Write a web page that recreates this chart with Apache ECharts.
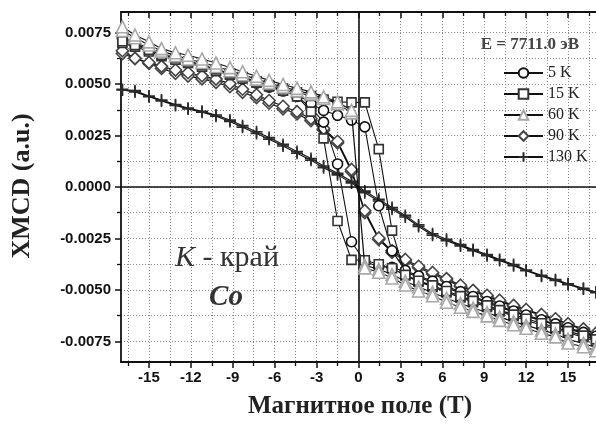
<!DOCTYPE html>
<html>
<head>
<meta charset="utf-8">
<script src="https://cdn.jsdelivr.net/npm/echarts@6/dist/echarts.min.js"></script>
<style>
  html, body { margin: 0; padding: 0; background: #fff; }
  #chart { width: 596px; height: 426px; }
</style>
</head>
<body>
<div id="chart"></div>
<script>
// Magnetic field points (T), shared by every branch
const field = [-16.9,-16.0,-15.0,-14.1,-13.1,-12.2,-11.2,-10.2,-9.2,-8.3,-7.3,-6.4,-5.4,-4.4,-3.4,-2.5,-1.5,-0.5,
               0.45,1.45,2.4,3.35,4.3,5.3,6.3,7.3,8.2,9.2,10.1,11.1,12.0,13.1,14.1,15.0,16.1,17.0];

// XMCD signal, ascending-field branch (up) and descending-field branch (dn), in field order
const k5Up = [0.00730,0.00702,0.00674,0.00648,0.00628,0.00612,0.00592,0.00570,0.00550,0.00530,0.00510,0.00490,0.00472,0.00452,0.00405,0.00372,0.00348,0.00325,
              0.00292,-0.00091,-0.00310,-0.00405,-0.00432,-0.00457,-0.00483,-0.00508,-0.00532,-0.00556,-0.00578,-0.00602,-0.00622,-0.00645,-0.00665,-0.00684,-0.00706,-0.00725];
const k5Dn = [0.00722,0.00695,0.00668,0.00642,0.00622,0.00605,0.00585,0.00565,0.00545,0.00525,0.00505,0.00485,0.00466,0.00440,0.00385,0.00315,0.00112,-0.00266,
              -0.00362,-0.00387,-0.00390,-0.00412,-0.00440,-0.00463,-0.00490,-0.00515,-0.00538,-0.00562,-0.00584,-0.00607,-0.00628,-0.00650,-0.00670,-0.00690,-0.00712,-0.00730];

const k15Up = [0.00708,0.00690,0.00666,0.00642,0.00626,0.00610,0.00592,0.00572,0.00552,0.00534,0.00514,0.00495,0.00478,0.00460,0.00442,0.00425,0.00414,0.00411,
               0.00411,0.00184,-0.00212,-0.00427,-0.00455,-0.00478,-0.00505,-0.00530,-0.00553,-0.00575,-0.00598,-0.00620,-0.00640,-0.00662,-0.00682,-0.00700,-0.00722,-0.00740];
const k15Dn = [0.00700,0.00682,0.00658,0.00635,0.00618,0.00602,0.00584,0.00564,0.00545,0.00527,0.00507,0.00488,0.00468,0.00440,0.00366,0.00236,-0.00165,-0.00354,
               -0.00356,-0.00375,-0.00395,-0.00430,-0.00460,-0.00485,-0.00512,-0.00537,-0.00560,-0.00583,-0.00605,-0.00628,-0.00648,-0.00670,-0.00690,-0.00708,-0.00730,-0.00748];

const k60Up = [0.00778,0.00738,0.00705,0.00672,0.00652,0.00640,0.00622,0.00602,0.00580,0.00560,0.00538,0.00518,0.00498,0.00480,0.00462,0.00438,0.00414,0.00372,
               -0.00393,-0.00414,-0.00442,-0.00476,-0.00505,-0.00528,-0.00560,-0.00584,-0.00604,-0.00626,-0.00648,-0.00669,-0.00686,-0.00710,-0.00728,-0.00758,-0.00776,-0.00795];
const k60Dn = [0.00760,0.00725,0.00690,0.00660,0.00638,0.00622,0.00605,0.00585,0.00565,0.00545,0.00524,0.00505,0.00486,0.00468,0.00452,0.00430,0.00405,0.00360,
               -0.00380,-0.00400,-0.00425,-0.00458,-0.00486,-0.00512,-0.00540,-0.00566,-0.00588,-0.00610,-0.00632,-0.00654,-0.00672,-0.00694,-0.00714,-0.00740,-0.00760,-0.00780];

const k90Up = [0.00662,0.00625,0.00605,0.00586,0.00568,0.00555,0.00540,0.00524,0.00502,0.00475,0.00448,0.00420,0.00392,0.00366,0.00332,0.00284,0.00222,0.00085,
               -0.00115,-0.00248,-0.00310,-0.00352,-0.00385,-0.00415,-0.00445,-0.00477,-0.00502,-0.00526,-0.00550,-0.00575,-0.00595,-0.00619,-0.00640,-0.00664,-0.00689,-0.00710];
const k90Dn = [0.00648,0.00624,0.00600,0.00576,0.00552,0.00539,0.00525,0.00508,0.00487,0.00460,0.00434,0.00407,0.00380,0.00355,0.00322,0.00276,0.00214,0.00075,
               -0.00125,-0.00255,-0.00318,-0.00360,-0.00392,-0.00422,-0.00452,-0.00483,-0.00508,-0.00532,-0.00556,-0.00580,-0.00600,-0.00624,-0.00645,-0.00668,-0.00693,-0.00714];

const k130Up = [0.00474,0.00468,0.00442,0.00422,0.00400,0.00383,0.00368,0.00350,0.00325,0.00298,0.00268,0.00240,0.00207,0.00172,0.00138,0.00102,0.00067,0.00028,
                -0.00020,-0.00060,-0.00100,-0.00138,-0.00184,-0.00227,-0.00254,-0.00280,-0.00304,-0.00328,-0.00352,-0.00377,-0.00403,-0.00429,-0.00450,-0.00470,-0.00492,-0.00510];
const k130Dn = [0.00471,0.00462,0.00438,0.00418,0.00396,0.00379,0.00363,0.00344,0.00318,0.00290,0.00260,0.00232,0.00199,0.00164,0.00130,0.00094,0.00059,0.00020,
                -0.00028,-0.00068,-0.00108,-0.00146,-0.00192,-0.00234,-0.00261,-0.00286,-0.00310,-0.00334,-0.00357,-0.00382,-0.00407,-0.00433,-0.00454,-0.00474,-0.00496,-0.00514];

// Tick positions
const xMajor = [-15,-12,-9,-6,-3,0,3,6,9,12,15];
const xMinor = [-16.5,-13.5,-10.5,-7.5,-4.5,-1.5,1.5,4.5,7.5,10.5,13.5,16.5];
const yMajor = [-0.0075,-0.005,-0.0025,0,0.0025,0.005,0.0075];
const yMinor = [-0.00625,-0.00375,-0.00125,0.00125,0.00375,0.00625];

const names = ['5 K','15 K','60 K','90 K','130 K'];

// One closed loop: sweep down from +17 T, then back up from -17 T
function loop(up, dn) {
  const down = field.map((h, i) => [h, dn[i]]).reverse();
  const rise = field.map((h, i) => [h, up[i]]);
  return down.concat(rise);
}

const plusPath = 'path://M5 0V10M0 5H10';

function series(name, data, symbol, size, border, z) {
  return {
    name, type: 'line', data, symbol, symbolSize: size, showSymbol: true, z,
    lineStyle: { color: '#111', width: 1.1 },
    itemStyle: { color: symbol === plusPath ? 'rgba(0,0,0,0)' : '#fff', borderColor: border, borderWidth: 1.6 },
    emphasis: { disabled: true }, animation: false
  };
}

const serif = 'Liberation Serif';
const sans = 'Liberation Sans';
const dotted = { show: true, lineStyle: { color: '#8a8a8a', type: [1, 2], width: 1 } };

const chart = echarts.init(document.getElementById('chart'), null, { renderer: 'canvas' });
chart.setOption({
  animation: false,
  grid: { left: 121, top: 12, width: 477, height: 350 },
  legend: {
    data: names, orient: 'vertical', left: 498, top: 60,
    itemWidth: 39, itemHeight: 12, itemGap: 5,
    textStyle: { fontFamily: serif, fontSize: 16, color: '#222', lineHeight: 16 },
    selectedMode: false
  },
  xAxis: [
    { type: 'value', position: 'bottom', min: -17, max: 17,
      axisLine: { show: true, onZero: false, lineStyle: { color: '#111', width: 1.8 } },
      axisTick: { show: true, inside: false, length: 6, customValues: xMajor, lineStyle: { color: '#111', width: 1.5 } },
      axisLabel: { show: true, customValues: xMajor, margin: 8, fontFamily: sans, fontWeight: 'bold', fontSize: 15, color: '#111',
                   formatter: v => String(v) },
      splitLine: dotted },
    { type: 'value', position: 'bottom', min: -17, max: 17,
      axisLine: { show: false, onZero: false },
      axisTick: { show: true, inside: false, length: 4, customValues: xMinor, lineStyle: { color: '#111', width: 1.3 } },
      axisLabel: { show: false }, splitLine: dotted },
    { type: 'value', position: 'top', min: -17, max: 17,
      axisLine: { show: true, onZero: false, lineStyle: { color: '#111', width: 1.8 } },
      axisTick: { show: true, inside: true, length: 6, customValues: xMajor, lineStyle: { color: '#111', width: 1.5 } },
      axisLabel: { show: false }, splitLine: { show: false } },
    { type: 'value', position: 'top', min: -17, max: 17,
      axisLine: { show: false, onZero: false },
      axisTick: { show: true, inside: true, length: 4, customValues: xMinor, lineStyle: { color: '#111', width: 1.3 } },
      axisLabel: { show: false }, splitLine: { show: false } }
  ],
  yAxis: [
    { type: 'value', position: 'left', min: -0.0085, max: 0.0085,
      axisLine: { show: true, onZero: false, lineStyle: { color: '#111', width: 1.8 } },
      axisTick: { show: true, inside: false, length: 6, customValues: yMajor, lineStyle: { color: '#111', width: 1.5 } },
      axisLabel: { show: true, customValues: yMajor, margin: 10, fontFamily: sans, fontWeight: 'bold', fontSize: 15, color: '#111',
                   formatter: v => v.toFixed(4) },
      splitLine: dotted },
    { type: 'value', position: 'left', min: -0.0085, max: 0.0085,
      axisLine: { show: false, onZero: false },
      axisTick: { show: true, inside: false, length: 4, customValues: yMinor, lineStyle: { color: '#111', width: 1.3 } },
      axisLabel: { show: false }, splitLine: dotted }
  ],
  series: [
    Object.assign(series('90 K', loop(k90Up, k90Dn), 'diamond', 12, '#454545', 2), {
      markLine: {
        silent: true, symbol: 'none', label: { show: false },
        lineStyle: { color: '#111', type: 'solid', width: 1.6 },
        data: [{ xAxis: 0 }, { yAxis: 0 }]
      }
    }),
    series('130 K', loop(k130Up, k130Dn), plusPath, 12, '#2a2a2a', 3),
    series('5 K', loop(k5Up, k5Dn), 'circle', 10, '#111', 4),
    series('15 K', loop(k15Up, k15Dn), 'rect', 9, '#333', 5),
    series('60 K', loop(k60Up, k60Dn), 'triangle', 12, '#a8a8a8', 6)
  ],
  graphic: [
    { type: 'text', x: 579, y: 45, z: 100,
      style: { text: 'E = 7711.0 эВ', font: 'bold 17px "Liberation Serif"', fill: '#444', align: 'right', verticalAlign: 'middle' } },
    { type: 'text', x: 22, y: 186, rotation: Math.PI / 2, z: 100,
      style: { text: 'XMCD (a.u.)', font: 'bold 26px "Liberation Serif"', fill: '#222', align: 'center', verticalAlign: 'middle' } },
    { type: 'text', x: 360, y: 407, z: 100,
      style: { text: 'Магнитное поле (T)', font: 'bold 25px "Liberation Serif"', fill: '#222', align: 'center', verticalAlign: 'middle' } },
    { type: 'text', x: 175, y: 258, z: 100,
      style: { text: '{k|K}{r| - край}', align: 'left', verticalAlign: 'middle',
               rich: { k: { font: 'italic 30px "Liberation Serif"', fill: '#333' },
                       r: { font: '30px "Liberation Serif"', fill: '#333' } } } },
    { type: 'text', x: 226, y: 298, z: 100,
      style: { text: 'Co', font: 'bold italic 29px "Liberation Serif"', fill: '#333', align: 'center', verticalAlign: 'middle' } }
  ]
});
</script>
</body>
</html>
